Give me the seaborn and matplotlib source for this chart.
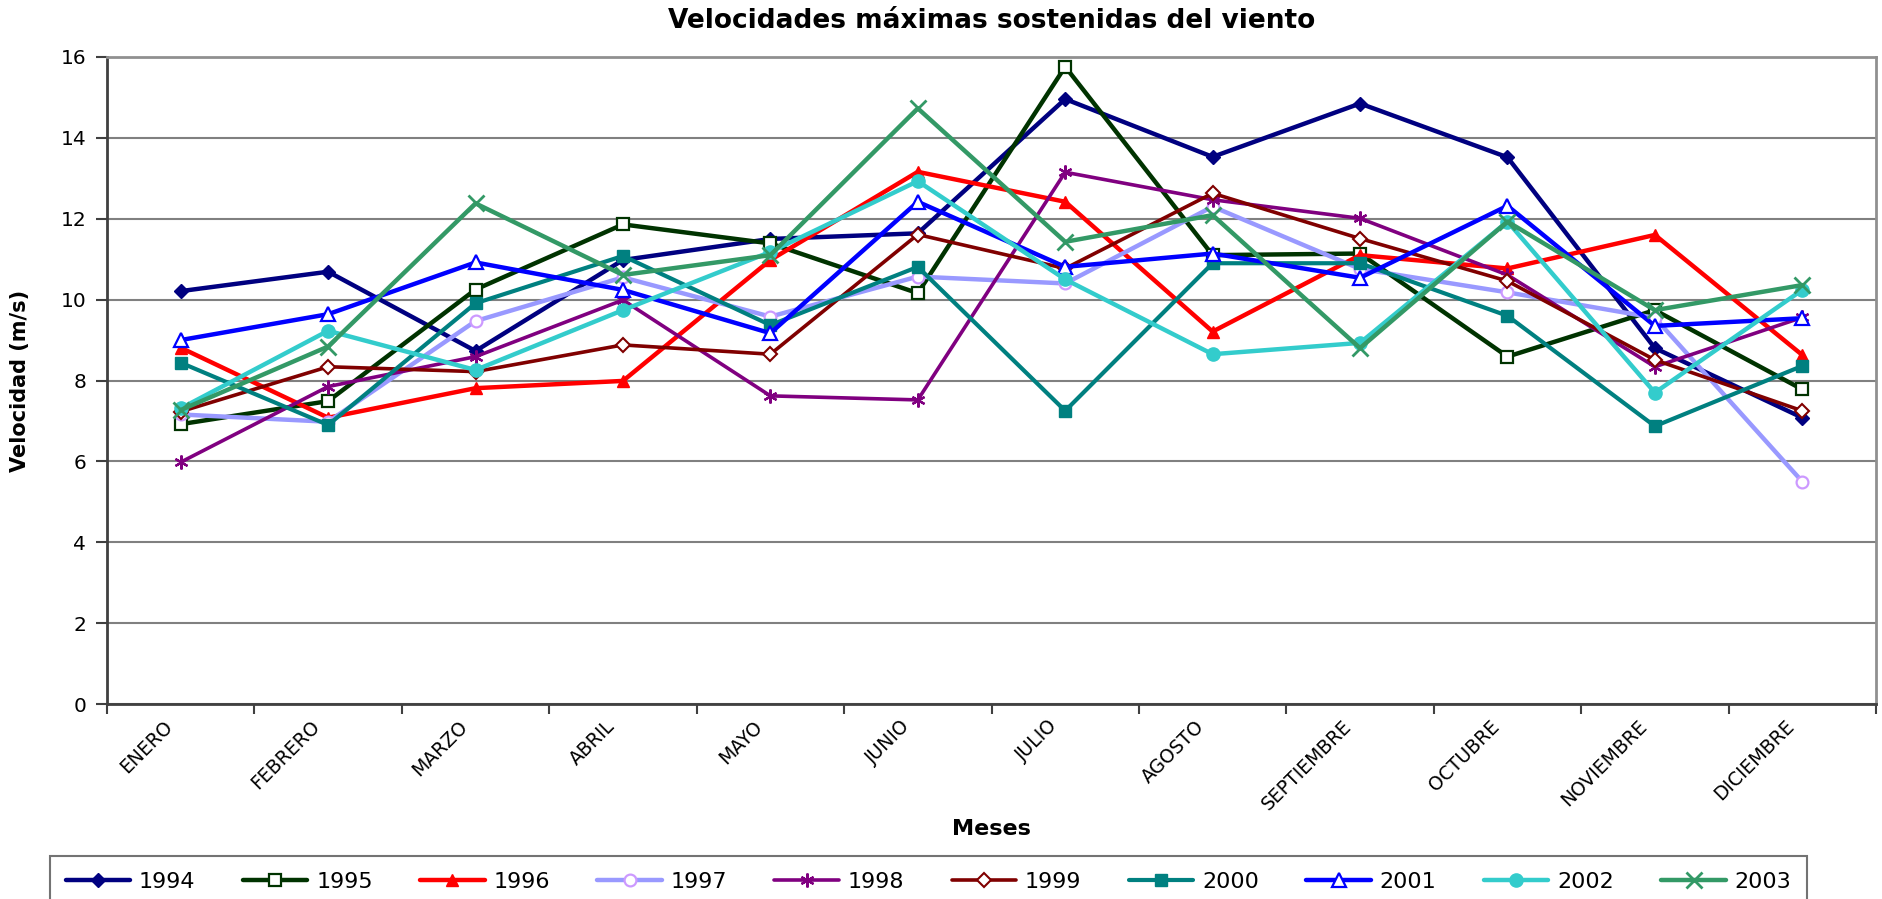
import matplotlib
matplotlib.use("Agg")
import matplotlib.pyplot as plt
import matplotlib.transforms as mtransforms
import seaborn as sns

# Monthly maximum sustained wind speeds (m/s)
meses = ["ENERO", "FEBRERO", "MARZO", "ABRIL", "MAYO", "JUNIO", "JULIO",
         "AGOSTO", "SEPTIEMBRE", "OCTUBRE", "NOVIEMBRE", "DICIEMBRE"]

v1994 = [10.21, 10.69, 8.73, 10.98, 11.50, 11.64, 14.96, 13.53, 14.85, 13.52, 8.80, 7.08]
v1995 = [6.92, 7.49, 10.25, 11.86, 11.39, 10.16, 15.76, 11.10, 11.14, 8.59, 9.74, 7.78]
v1996 = [8.81, 7.08, 7.81, 7.99, 10.98, 13.16, 12.42, 9.21, 11.10, 10.77, 11.60, 8.63]
v1997 = [7.16, 6.98, 9.47, 10.55, 9.58, 10.57, 10.40, 12.30, 10.76, 10.18, 9.55, 5.50]
v1998 = [5.98, 7.85, 8.59, 9.99, 7.62, 7.52, 13.15, 12.47, 12.01, 10.61, 8.34, 9.56]
v1999 = [7.23, 8.34, 8.22, 8.88, 8.65, 11.61, 10.77, 12.63, 11.51, 10.46, 8.51, 7.25]
v2000 = [8.44, 6.90, 9.91, 11.08, 9.37, 10.81, 7.25, 10.90, 10.90, 9.60, 6.87, 8.36]
v2001 = [9.00, 9.64, 10.92, 10.24, 9.17, 12.42, 10.81, 11.14, 10.54, 12.32, 9.35, 9.54]
v2002 = [7.31, 9.23, 8.26, 9.74, 11.18, 12.93, 10.50, 8.65, 8.93, 11.93, 7.70, 10.24]
v2003 = [7.27, 8.84, 12.38, 10.61, 11.10, 14.73, 11.43, 12.09, 8.80, 11.93, 9.74, 10.36]

anios = ["1994", "1995", "1996", "1997", "1998", "1999", "2000", "2001", "2002", "2003"]
valores = [v1994, v1995, v1996, v1997, v1998, v1999, v2000, v2001, v2002, v2003]

# Line / marker styling per year
estilos = {
    "1994": dict(color="#000080", marker="D", mfc="#000080", mec="#000080", ms=7, lw=3.2),
    "1995": dict(color="#003300", marker="s", mfc="white", mec="#003300", ms=8.5, lw=3.2, mew=1.6),
    "1996": dict(color="#FF0000", marker="^", mfc="#FF0000", mec="#FF0000", ms=9, lw=3.2),
    "1997": dict(color="#9999FF", marker="o", mfc="white", mec="#CC99FF", ms=8.5, lw=3.2, mew=1.6),
    "1998": dict(color="#800080", marker=(6, 2, 0), mfc="#800080", mec="#800080", ms=10, lw=2.6, mew=1.6),
    "1999": dict(color="#800000", marker="D", mfc="white", mec="#800000", ms=7, lw=2.6, mew=1.5),
    "2000": dict(color="#008080", marker="s", mfc="#008080", mec="#008080", ms=9, lw=3.0),
    "2001": dict(color="#0000FF", marker="^", mfc="white", mec="#0000FF", ms=9.5, lw=3.2, mew=1.6),
    "2002": dict(color="#33CCCC", marker="o", mfc="#33CCCC", mec="#33CCCC", ms=9.5, lw=3.2),
    "2003": dict(color="#339966", marker="x", mfc="#339966", mec="#339966", ms=11, lw=3.2, mew=2.0),
}

sns.set_style("white")
plt.rcParams["font.family"] = ["DejaVu Sans"]
plt.rcParams["text.color"] = "black"
plt.rcParams["axes.labelcolor"] = "black"
plt.rcParams["xtick.labelcolor"] = "black"
plt.rcParams["ytick.labelcolor"] = "black"

W, H = 1883, 899
fig = plt.figure(figsize=(W / 100, H / 100), dpi=100)
ax = fig.add_axes([107 / W, 1 - 704 / H, (1876 - 107) / W, (704 - 57) / H])

for anio, vals in zip(anios, valores):
    st = estilos[anio]
    sns.lineplot(x=meses, y=vals, ax=ax, sort=False, estimator=None,
                 label=anio, color=st["color"], linewidth=st["lw"],
                 marker=st["marker"], markersize=st["ms"],
                 markerfacecolor=st["mfc"], markeredgecolor=st["mec"],
                 markeredgewidth=st.get("mew", 1.0))

ax.set_xlim(-0.5, len(meses) - 0.5)
ax.set_ylim(0, 16)
ax.set_yticks(range(0, 17, 2))
ax.set_yticklabels([str(v) for v in range(0, 17, 2)], fontsize=14.5, color="black")

# Category labels centred, tick marks between categories
ax.set_xticks(range(len(meses)))
ax.set_xticklabels(meses, rotation=45, ha="right", va="center",
                   rotation_mode="anchor", fontsize=13.5, color="black")
ax.set_xticks([i - 0.5 for i in range(len(meses) + 1)], minor=True)
ax.tick_params(axis="x", which="major", length=0, pad=14)
ax.tick_params(axis="x", which="minor", length=7, width=1.5, color="#404040",
               direction="out", bottom=True)
ax.tick_params(axis="y", which="major", length=8, width=1.5, color="#404040",
               direction="out", left=True, pad=7)
shift = mtransforms.ScaledTranslation(-8 / 72, 0, fig.dpi_scale_trans)
for lbl in ax.get_xticklabels():
    lbl.set_transform(lbl.get_transform() + shift)

ax.yaxis.grid(True, color="#808080", linewidth=1.5)
ax.xaxis.grid(False)
ax.set_axisbelow(True)

for side in ("left", "bottom"):
    ax.spines[side].set_color("#404040")
    ax.spines[side].set_linewidth(2.0)
for side in ("top", "right"):
    ax.spines[side].set_color("#909090")
    ax.spines[side].set_linewidth(2.0)

ax.set_title("Velocidades máximas sostenidas del viento", fontsize=19,
             fontweight="bold", y=1 + 36 / 647, va="center", pad=0, color="black")
ax.set_ylabel("Velocidad (m/s)", fontsize=15, fontweight="bold")
ax.yaxis.set_label_coords((30 - 107) / (1876 - 107), 0.5)
ax.set_xlabel("Meses", fontsize=16, fontweight="bold")
ax.xaxis.set_label_coords(0.5, (704 - 829) / 647)
ax.xaxis.label.set_va("center")

handles, labels = ax.get_legend_handles_labels()
ax.get_legend().remove()
leg = fig.legend(handles, labels, loc="upper left",
                 bbox_to_anchor=(50 / W, 1 - 856 / H, (1807 - 50) / W, 0),
                 mode="expand", ncol=10, fontsize=16, frameon=True,
                 fancybox=False, handlelength=2.9, handletextpad=0.4,
                 borderaxespad=0, borderpad=0.7)
leg.get_frame().set_edgecolor("#505050")
leg.get_frame().set_linewidth(1.5)
for t in leg.get_texts():
    t.set_color("black")

fig.savefig("out.png", dpi=100, facecolor="white")
